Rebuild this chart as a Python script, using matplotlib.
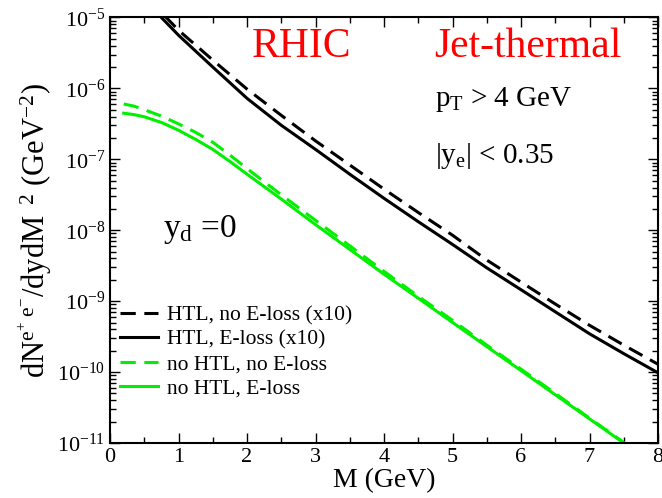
import matplotlib
matplotlib.use('Agg')
import matplotlib.pyplot as plt
from matplotlib.ticker import LogLocator, MultipleLocator, NullFormatter

plt.rcParams['font.family'] = ['Liberation Serif', 'DejaVu Serif']
plt.rcParams['mathtext.fontset'] = 'custom'
plt.rcParams['mathtext.rm'] = 'Liberation Serif'
plt.rcParams['mathtext.it'] = 'Liberation Serif'
plt.rcParams['mathtext.bf'] = 'Liberation Serif:bold'

# --- data (M in GeV) ---
m_htl_noloss = [0.8, 1.0, 1.5, 2.0, 2.5, 3.0, 3.5, 4.0, 4.5, 5.0, 5.5, 6.0, 6.5, 7.0, 7.5, 8.0]
htl_noloss = [1.05e-5, 6.61e-6, 2.51e-6, 9.77e-7, 4.17e-7, 1.82e-7, 8.32e-8, 3.80e-8,
              1.78e-8, 8.51e-9, 3.80e-9, 1.86e-9, 9.12e-10, 4.57e-10, 2.40e-10, 1.29e-10]

m_htl_loss = [0.72, 1.0, 1.5, 2.0, 2.5, 3.0, 3.5, 4.0, 4.5, 5.0, 5.5, 6.0, 6.5, 7.0, 7.5, 8.0]
htl_loss = [1.07e-5, 5.62e-6, 2.00e-6, 7.24e-7, 3.02e-7, 1.38e-7, 6.17e-8, 2.82e-8,
            1.32e-8, 6.31e-9, 2.95e-9, 1.45e-9, 7.08e-10, 3.47e-10, 1.82e-10, 9.77e-11]

m_nohtl = [0.2, 0.35, 0.5, 0.75, 1.0, 1.25, 1.5, 1.75, 2.0, 2.5, 3.0, 3.5, 4.0,
           4.5, 5.0, 5.5, 6.0, 6.5, 7.0, 7.5]
nohtl_noloss = [6.03e-7, 5.62e-7, 5.01e-7, 4.07e-7, 3.16e-7, 2.40e-7, 1.74e-7, 1.15e-7,
                7.41e-8, 3.16e-8, 1.38e-8, 6.03e-9, 2.63e-9, 1.17e-9, 5.37e-10,
                2.40e-10, 1.10e-10, 5.01e-11, 2.24e-11, 1.02e-11]
nohtl_loss = [4.47e-7, 4.27e-7, 3.98e-7, 3.31e-7, 2.57e-7, 1.91e-7, 1.38e-7, 9.33e-8,
              6.17e-8, 2.75e-8, 1.20e-8, 5.37e-9, 2.40e-9, 1.10e-9, 5.01e-10,
              2.29e-10, 1.05e-10, 4.79e-11, 2.19e-11, 1.00e-11]

x_ticks = [0, 1, 2, 3, 4, 5, 6, 7, 8]

green = '#00f000'

fig = plt.figure(figsize=(6.62, 4.98), dpi=100)
ax = fig.add_axes([0.1662, 0.1104, 0.8278, 0.8545])

lw = 2.2
dash = (5.0, 2.8)
ax.plot(m_htl_noloss, htl_noloss, color='black', lw=lw, dashes=dash, label='HTL, no E-loss (x10)')
ax.plot(m_htl_loss, htl_loss, color='black', lw=lw, label='HTL, E-loss (x10)')
ax.plot(m_nohtl, nohtl_noloss, color=green, lw=lw, dashes=dash, label='no HTL, no E-loss')
ax.plot(m_nohtl, nohtl_loss, color=green, lw=lw, label='no HTL, E-loss')

ax.set_yscale('log')
ax.set_xlim(0, 8)
ax.set_ylim(1e-11, 1e-5)
ax.set_xticks(x_ticks)
ax.xaxis.set_minor_locator(MultipleLocator(0.5))
ax.yaxis.set_major_locator(LogLocator(base=10, numticks=20))
ax.yaxis.set_minor_locator(LogLocator(base=10, subs=range(2, 10), numticks=50))
ax.yaxis.set_minor_formatter(NullFormatter())

ax.tick_params(which='both', direction='in', top=True, right=True, labelsize=16, width=1.0)
ax.tick_params(which='major', length=7)
ax.tick_params(which='minor', length=4)
for s in ax.spines.values():
    s.set_linewidth(1.5)

ax.set_xlabel('M (GeV)', fontsize=20, labelpad=1)
ax.set_ylabel(r'dN$^{\mathrm{e^{+}\ e^{-}}}$/dydM$^{\ \ 2}$ (GeV$^{-2}$)', fontsize=22, labelpad=2)

ax.text(0.259, 0.931, 'RHIC', transform=ax.transAxes, color='red', fontsize=30,
        ha='left', va='center')
ax.text(0.591, 0.931, 'Jet-thermal', transform=ax.transAxes, color='red', fontsize=30,
        ha='left', va='center')
ax.text(0.593, 0.792, r'p$_{\mathrm{T}}$ > 4 GeV', transform=ax.transAxes, fontsize=21,
        ha='left', va='baseline')
ax.text(0.593, 0.658, r'|y$_{\mathrm{e}}$| < 0.35', transform=ax.transAxes, fontsize=21,
        ha='left', va='baseline')
ax.text(0.097, 0.484, r'y$_{\mathrm{d}}$ =0', transform=ax.transAxes, fontsize=24,
        ha='left', va='baseline')

ax.legend(loc='center left', bbox_to_anchor=(0.018, 0.214), frameon=False, fontsize=15.5,
          handlelength=1.75, handletextpad=0.45, labelspacing=0.2,
          borderpad=0, borderaxespad=0)

fig.savefig('out.png', dpi=100)
